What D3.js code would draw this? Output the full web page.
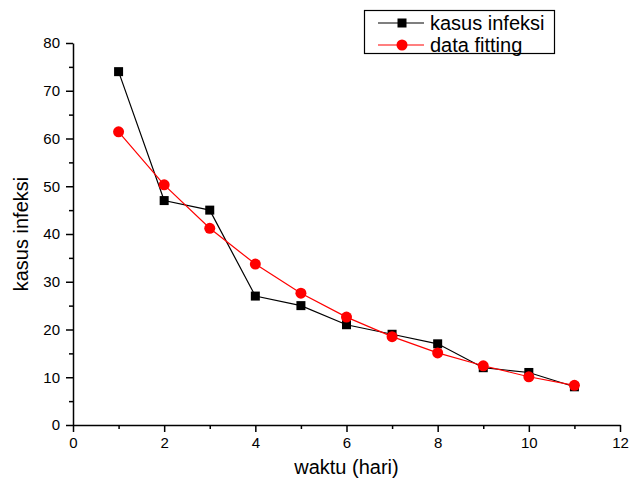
<!DOCTYPE html>
<html>
<head>
<meta charset="utf-8">
<script src="https://cdn.jsdelivr.net/npm/d3@7"></script>
<style>
  body { margin: 0; background: #fff; }
  svg { display: block; font-family: 'Liberation Sans', Arial, sans-serif; }
</style>
</head>
<body>
<div id="chart"></div>
<script>
const days = [1, 2, 3, 4, 5, 6, 7, 8, 9, 10, 11];
const kasusInfeksi = [74, 47, 45, 27, 25, 21, 19, 17, 12, 11, 8];
const dataFitting = [61.4, 50.3, 41.2, 33.7, 27.6, 22.6, 18.5, 15.1, 12.4, 10.1, 8.3];
const xTicks = [0, 2, 4, 6, 8, 10, 12];
const xMinor = [1, 3, 5, 7, 9, 11];
const yTicks = [0, 10, 20, 30, 40, 50, 60, 70, 80];
const yMinor = [5, 15, 25, 35, 45, 55, 65, 75];
const seriesNames = ['kasus infeksi', 'data fitting'];

const width = 630, height = 483;
const margin = { left: 73, right: 10, top: 43, bottom: 58 };

const svg = d3.select('#chart')
  .append('svg')
  .attr('width', width)
  .attr('height', height);

const x = d3.scaleLinear().domain([0, 12]).range([margin.left, width - margin.right]);
const y = d3.scaleLinear().domain([0, 80]).range([height - margin.bottom, margin.top]);

// axes
svg.append('g')
  .attr('transform', `translate(0, ${y(0)})`)
  .call(d3.axisBottom(x).tickValues(xTicks).tickSize(7).tickPadding(5).tickSizeOuter(0));
svg.append('g')
  .attr('transform', `translate(0, ${y(0)})`)
  .call(d3.axisBottom(x).tickValues(xMinor).tickSize(4).tickFormat('').tickSizeOuter(0))
  .select('.domain').remove();

svg.append('g')
  .attr('transform', `translate(${x(0)}, 0)`)
  .call(d3.axisLeft(y).tickValues(yTicks).tickSize(7).tickPadding(6).tickSizeOuter(0));
svg.append('g')
  .attr('transform', `translate(${x(0)}, 0)`)
  .call(d3.axisLeft(y).tickValues(yMinor).tickSize(4).tickFormat('').tickSizeOuter(0))
  .select('.domain').remove();

svg.selectAll('.domain, .tick line').attr('stroke', '#000').attr('stroke-width', 1.5);
svg.selectAll('.tick text')
  .attr('font-size', 15)
  .attr('font-family', "'Liberation Sans', Arial, sans-serif")
  .attr('fill', '#000');

// axis titles
svg.append('text')
  .attr('x', (x(0) + x(12)) / 2)
  .attr('y', 474)
  .attr('text-anchor', 'middle')
  .attr('font-size', 20)
  .text('waktu (hari)');

svg.append('text')
  .attr('transform', `translate(28, ${(y(0) + y(80)) / 2}) rotate(-90)`)
  .attr('text-anchor', 'middle')
  .attr('font-size', 20)
  .text('kasus infeksi');

// lines
const line = d3.line().x((d, i) => x(days[i])).y(d => y(d));

svg.append('path')
  .datum(kasusInfeksi)
  .attr('fill', 'none')
  .attr('stroke', '#000')
  .attr('stroke-width', 1.2)
  .attr('d', line);

svg.append('path')
  .datum(dataFitting)
  .attr('fill', 'none')
  .attr('stroke', '#ff0000')
  .attr('stroke-width', 1.2)
  .attr('d', line);

// markers
svg.append('g').selectAll('rect')
  .data(kasusInfeksi)
  .join('rect')
  .attr('x', (d, i) => x(days[i]) - 4.5)
  .attr('y', d => y(d) - 4.5)
  .attr('width', 9)
  .attr('height', 9)
  .attr('fill', '#000');

svg.append('g').selectAll('circle')
  .data(dataFitting)
  .join('circle')
  .attr('cx', (d, i) => x(days[i]))
  .attr('cy', d => y(d))
  .attr('r', 5.5)
  .attr('fill', '#ff0000');

// legend
const legend = svg.append('g');
legend.append('rect')
  .attr('x', 364.5).attr('y', 10.5)
  .attr('width', 190).attr('height', 43)
  .attr('fill', '#fff')
  .attr('stroke', '#000')
  .attr('stroke-width', 1.2);

const rows = [
  { name: seriesNames[0], color: '#000', shape: 'square', cy: 23 },
  { name: seriesNames[1], color: '#ff0000', shape: 'circle', cy: 45 },
];
rows.forEach(r => {
  legend.append('line')
    .attr('x1', 378).attr('x2', 424)
    .attr('y1', r.cy).attr('y2', r.cy)
    .attr('stroke', r.color).attr('stroke-width', 1.2);
  if (r.shape === 'square') {
    legend.append('rect')
      .attr('x', 402 - 4.5).attr('y', r.cy - 4.5)
      .attr('width', 9).attr('height', 9)
      .attr('fill', r.color);
  } else {
    legend.append('circle')
      .attr('cx', 402).attr('cy', r.cy).attr('r', 5.5)
      .attr('fill', r.color);
  }
  legend.append('text')
    .attr('x', 430).attr('y', r.cy)
    .attr('dy', '0.35em')
    .attr('font-size', 20)
    .text(r.name);
});
</script>
</body>
</html>
